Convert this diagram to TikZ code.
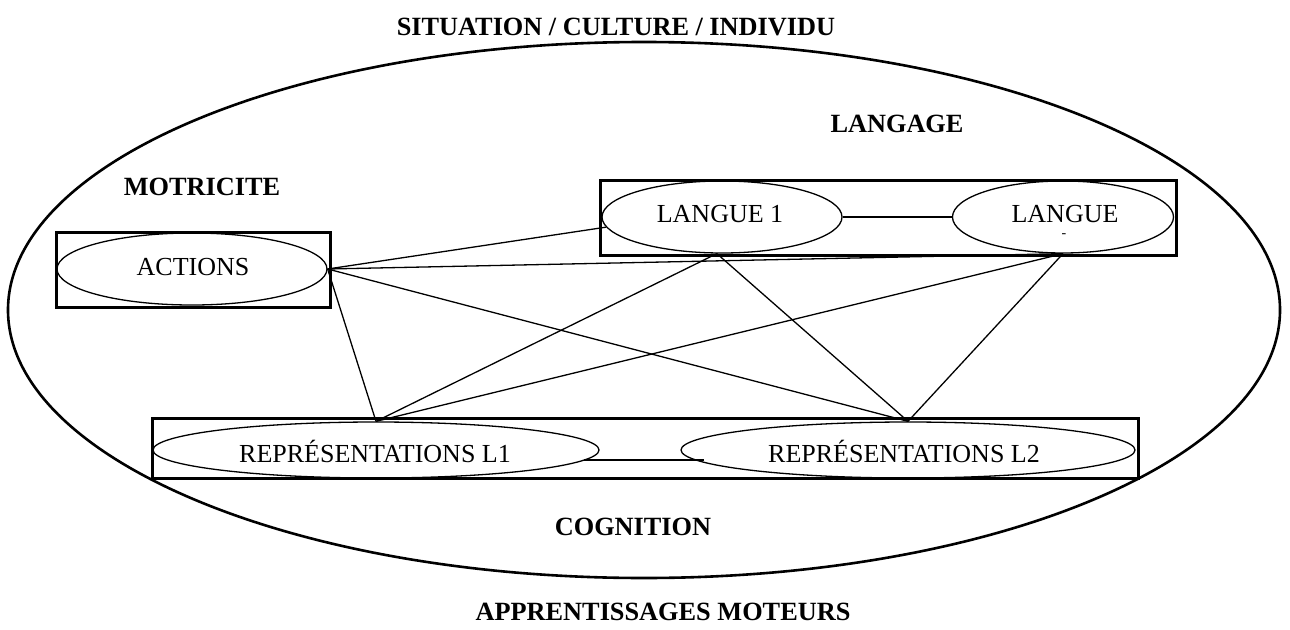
\documentclass[tikz,border=0pt]{standalone}
\usepackage{fontspec}
\setmainfont{Liberation Serif}
\usetikzlibrary{shapes.geometric}
\begin{document}
\begin{tikzpicture}[x=1pt,y=-1pt,
  lbl/.style={font=\fontsize{26.3}{28}\selectfont\bfseries, inner sep=0pt},
  txt/.style={font=\fontsize{26}{28}\selectfont, inner sep=0pt},
  ell/.style={ellipse, draw, line width=1.3pt, inner sep=0pt},
  frame/.style={draw, line width=3pt},
  conn/.style={line width=1.3pt}]
\useasboundingbox (0,0) rectangle (1290,629);
\draw[line width=2.6pt] (644,310) ellipse [x radius=636, y radius=268];
\node[lbl] (t1) at (616,27) {SITUATION / CULTURE / INDIVIDU};
\node[lbl] (t2) at (897,124) {LANGAGE};
\node[lbl] (t3) at (202,187) {MOTRICITE};
\node[lbl] (t4) at (633,527) {COGNITION};
\node[lbl] (t5) at (663,612) {APPRENTISSAGES MOTEURS};
% frames
\draw[frame] (56,232) rectangle (330,307);
\draw[frame] (600,180) rectangle (1176,255);
\draw[frame] (152,418) rectangle (1138,478);
% ellipses
\node[ell, minimum width=270, minimum height=72] (act) at (192,269) {};
\node[txt] (actt) at (193,267) {ACTIONS};
\node[ell, minimum width=240, minimum height=72] (l1) at (722,217) {};
\node[txt] (l1t) at (720,214) {LANGUE 1};
\node[ell, minimum width=221, minimum height=72] (l2) at (1063,217) {};
\node[txt] (l2t) at (1065,214) {LANGUE};
\node[font=\fontsize{14}{14}\selectfont, inner sep=0pt] (l2d) at (1064,236) {-};
\node[ell, minimum width=446, minimum height=56] (r1) at (376,450) {};
\node[txt] (r1t) at (375,451) {REPRÉSENTATIONS L1};
\node[ell, minimum width=454, minimum height=56] (r2) at (908,450) {};
\node[txt] (r2t) at (904,451) {REPRÉSENTATIONS L2};
% connectors
\draw[conn] (l1.east) -- (l2.west);
\draw[conn] ([xshift=-16pt,yshift=-10pt]r1.east) -- ([xshift=24pt,yshift=-10pt]r2.west);
\draw[conn] (act.east) -- (l1.185);
\draw[conn] (act.east) -- (l2.south);
\draw[conn] (act.east) -- (r1.north);
\draw[conn] (act.east) -- (r2.north);
\draw[conn] (l1.262) -- (r1.north);
\draw[conn] (l1.262) -- (r2.north);
\draw[conn] (l2.south) -- (r1.north);
\draw[conn] (l2.south) -- (r2.north);
\end{tikzpicture}
\end{document}
